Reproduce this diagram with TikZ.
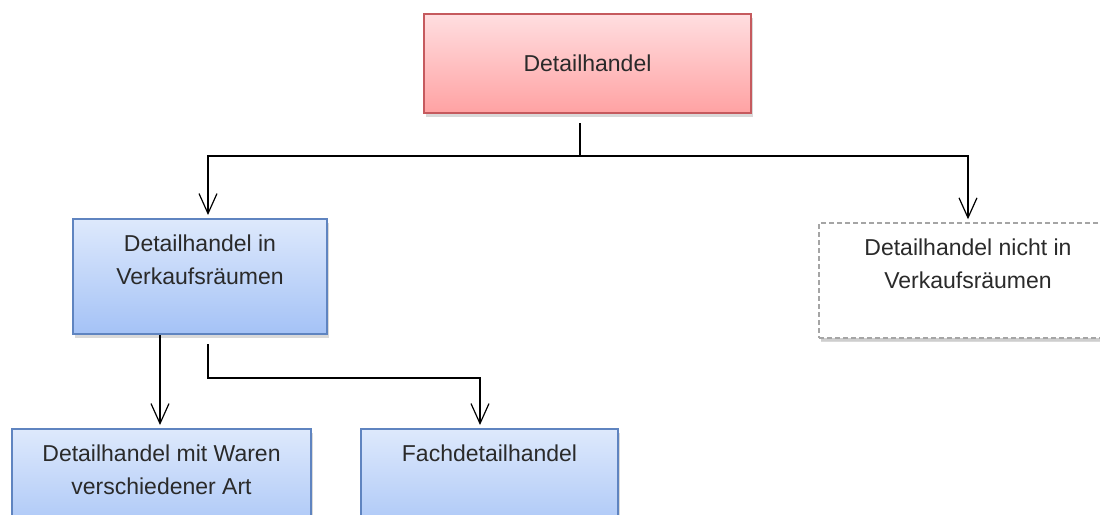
\documentclass[tikz,border=0pt]{standalone}
\usepackage{fontspec}
\setmainfont{Liberation Sans}
\usetikzlibrary{arrows.meta,shadows}
\definecolor{redtop}{HTML}{FFDEE0}
\definecolor{redbot}{HTML}{FFA2A3}
\definecolor{redline}{HTML}{C55A5E}
\definecolor{bluetop}{HTML}{DEE9FC}
\definecolor{bluebot}{HTML}{A4C2F6}
\definecolor{blueline}{HTML}{5F84C0}
\definecolor{greyline}{HTML}{A5A5A5}
\definecolor{textcol}{HTML}{2A2A2A}

\begin{document}
\begin{tikzpicture}[
    x=1pt,y=-1pt,
    font=\fontsize{23}{33}\selectfont,
    box/.style={draw,line width=2pt,align=center,inner sep=0pt,text=textcol,
      drop shadow={shadow xshift=1.5pt,shadow yshift=-3.5pt,opacity=0.3}},
    redbox/.style={box,draw=redline,top color=redtop,bottom color=redbot},
    bluebox/.style={box,draw=blueline,top color=bluetop,bottom color=bluebot},
    dashbox/.style={box,draw=greyline,fill=white,line width=1.5pt,dash pattern=on 5pt off 3pt,
      drop shadow={shadow xshift=1.5pt,shadow yshift=-3pt,opacity=0.12}},
    line/.style={line width=1.5pt},
    arr/.style={line,-{Straight Barb[length=20pt,width=18pt,line width=1.2pt]}},
  ]
    \clip (0,0) rectangle (1100,514);
    \node[redbox,minimum width=327pt,minimum height=99pt] (retail) at (587.5,63.5) {Detailhandel};
    \node[bluebox,minimum width=254pt,minimum height=115pt] (instore) at (200,276.5)
      {Detailhandel in\\Verkaufsräumen\\\mbox{}};
    \node[dashbox,minimum width=298pt,minimum height=115pt] (outstore) at (968,280.5)
      {Detailhandel nicht in\\Verkaufsräumen\\\mbox{}};
    \node[bluebox,minimum width=299pt,minimum height=115pt] (mixed) at (161.5,486.5)
      {Detailhandel mit Waren\\verschiedener Art\\\mbox{}};
    \node[bluebox,minimum width=257pt,minimum height=115pt] (special) at (489.5,486.5)
      {Fachdetailhandel\\\mbox{}\\\mbox{}};

    \coordinate (split) at (580,156);
    \draw[line] ([xshift=-7.5pt,yshift=-9pt]retail.south) -- (split);
    \draw[arr] (split) -| ([xshift=8pt,yshift=3pt]instore.north);
    \draw[arr] (split) -| ([yshift=3pt]outstore.north);
    \draw[arr] ([xshift=-40pt]instore.south) -- ([xshift=-40pt,yshift=3pt]instore.south |- mixed.north);
    \draw[arr] ([xshift=8pt,yshift=-9pt]instore.south) -- ++(0,34) -| ([xshift=-9.5pt,yshift=3pt]special.north);
  \end{tikzpicture}
\end{document}
